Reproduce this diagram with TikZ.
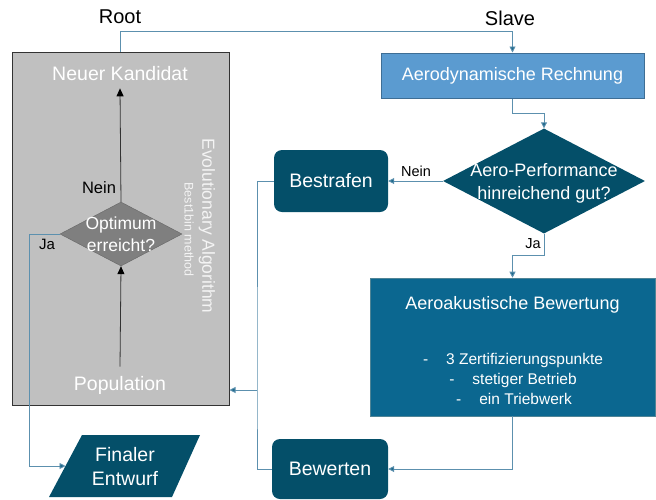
\documentclass[tikz,border=0pt]{standalone}
\usepackage{fontspec}
\setmainfont{Liberation Sans}
\usetikzlibrary{shapes.geometric,arrows.meta,calc}
\definecolor{darkteal}{HTML}{044F69}
\definecolor{midteal}{HTML}{0B6790}
\definecolor{lightblue}{HTML}{5B9BD0}
\definecolor{lbborder}{HTML}{3E6E95}
\definecolor{boxgray}{HTML}{C0C0C0}
\definecolor{diagray}{HTML}{7F7F7F}
\definecolor{conncol}{HTML}{5C90AE}
\definecolor{tipcol}{HTML}{1F6A8C}
\definecolor{softwhite}{HTML}{F4F4F4}
\tikzset{
  fs/.style={font=\fontsize{#1}{#1}\selectfont},
  conn/.style={draw=conncol, line width=0.9pt},
  tip/.style={-{Triangle[length=6pt,width=6pt,fill=tipcol]}},
  blacktip/.style={-{Stealth[length=8pt,width=7pt,inset=0pt,black]}},
  rbox/.style={draw=none, fill=darkteal, rounded corners=8pt, text=white, fs=19.5, inner sep=0pt},
  lbl/.style={text=black, inner sep=0pt},
  wtxt/.style={text=white, inner sep=0pt}
}
\begin{document}
\begin{tikzpicture}[x=1pt,y=-1pt]
\useasboundingbox (0,0) rectangle (656,499);
% Evolutionary algorithm box
\node[draw=black!80, line width=1pt, fill=boxgray, minimum width=217pt, minimum height=353pt, inner sep=0pt] (ea) at (120.5,228.5) {};
\node[lbl, fs=20] (root) at (120,17) {Root};
\node[lbl, fs=20] (slave) at (510,18) {Slave};
\node[wtxt, fs=19.5, inner sep=7pt] (nk) at (120,74) {Neuer Kandidat};
\node[wtxt, fs=19.5, inner ysep=9pt] (pop) at (120,385) {Population};
\node[diamond, draw=black!60, fill=diagray, minimum width=122pt, minimum height=64pt, inner sep=0pt] (opt) at (121,234) {};
\node[wtxt, fs=17.5, align=center] (optt) at (121,234) {Optimum\\[5pt]erreicht?};
\node[lbl, fs=16.5] (neinl) at (99,188) {Nein};
\node[lbl, fs=15] (jal) at (47,244) {Ja};
\node[text=softwhite, fs=17.5, rotate=-90, inner sep=0pt] (evo) at (207,226) {Evolutionary Algorithm};
\node[text=softwhite, fs=12.5, rotate=-90, inner sep=0pt] (b1b) at (189,229.5) {Best1bin method};
% right side
\node[draw=lbborder, line width=1pt, fill=lightblue, minimum width=263pt, minimum height=45pt, inner sep=0pt, text=white, fs=18] (aero) at (512.5,75.5) {Aerodynamische Rechnung};
\node[diamond, fill=darkteal, minimum width=202pt, minimum height=105pt, inner sep=0pt] (perf) at (544,181) {};
\node[wtxt, fs=18, align=center] (perft) at (544,183) {Aero-Performance\\[5pt]hinreichend gut?};
\node[rbox, minimum width=114pt, minimum height=62pt] (bes) at (331,181) {Bestrafen};
\node[lbl, fs=14.5] (nein2) at (416,171) {Nein};
\node[lbl, fs=14.5] (ja2) at (533,244) {Ja};
\node[fill=midteal, draw=darkteal!70, line width=0.6pt, minimum width=285pt, minimum height=138pt, inner sep=0pt] (akus) at (512.5,347) {};
\node[wtxt, fs=18] (akust) at (512.5,305) {Aeroakustische Bewertung};
\node[wtxt, fs=15.5] (l1) at (513,360) {-\hspace{18pt}3 Zertifizierungspunkte};
\node[wtxt, fs=15.5] (l2) at (513,380) {-\hspace{18pt}stetiger Betrieb};
\node[wtxt, fs=15.5] (l3) at (514,399) {-\hspace{18pt}ein Triebwerk};
\node[rbox, minimum width=116pt, minimum height=60pt] (bew) at (330,469) {Bewerten};
% Finaler Entwurf parallelogram
\fill[darkteal] (82,435) -- (200,435) -- (172,497) -- (49,497) -- cycle;
\node[wtxt, fs=19.5, align=center] (fint) at (125,467) {Finaler\\[4.5pt]Entwurf};
\coordinate (finl) at (65.5,466);
\coordinate (junc) at (257,390);
% connectors
\draw[conn,tip] (ea.north) -- ++(0,-20) -| (aero.north);
\draw[conn,tip] (aero.south) -- ++(0,15) -| (perf.north);
\draw[conn,tip] (perf.west) -- (perf.west -| bes.east);
\draw[conn,tip] (perf.south) -- ++(0,22) -| (akus.north);
\draw[conn,tip] (akus.south) |- (bew.east);
\draw[conn] (bes.west) -| (junc) |- (bew.west);
\draw[conn,tip] (junc) -- (junc -| ea.east);
\draw[conn,tip] (opt.west) -- ++(-30,0) |- (finl);
\draw[black!80, line width=0.8pt, blacktip] (opt.north) -- (nk.south);
\draw[black!80, line width=0.8pt, blacktip] (pop.north) -- (opt.south);
\end{tikzpicture}
\end{document}
